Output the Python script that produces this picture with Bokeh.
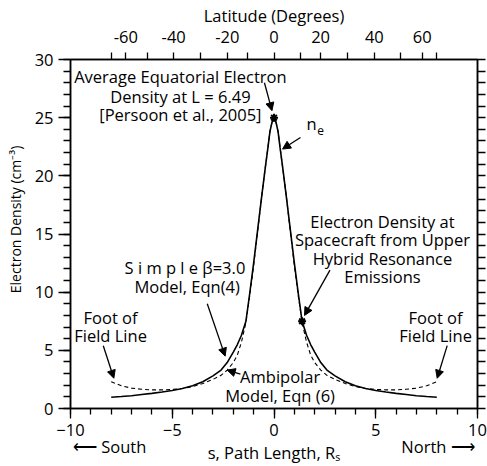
import numpy as np
from bokeh.plotting import figure
from bokeh.models import (Label, Arrow, NormalHead, LinearAxis, FixedTicker,
                          SingleIntervalTicker, Range1d, CustomLabelingPolicy)
from bokeh.embed import file_html
from bokeh.resources import INLINE

# ---------------- data ----------------
# path length s (R_S), symmetric about the equator
s_half = [0.0, 0.1, 0.2, 0.3, 0.45, 0.6, 0.8, 1.0, 1.2, 1.38, 1.6, 1.8, 2.0,
          2.3, 2.6, 3.0, 3.5, 4.0, 4.5, 5.0, 5.5, 6.0, 6.5, 7.0, 7.5, 8.0]
# Ambipolar model, Eqn (6)  (solid)
ambipolar_half = [25.0, 24.6, 23.8, 22.4, 20.4, 18.3, 15.4, 12.5, 9.8, 7.5, 6.3,
                  5.5, 4.85, 3.95, 3.3, 2.8, 2.3, 1.95, 1.72, 1.55, 1.42, 1.3,
                  1.2, 1.1, 1.03, 0.97]
# Simple beta=3.0 model, Eqn (4)  (dashed)
simple_half = [25.0, 24.6, 23.8, 22.4, 20.4, 18.3, 15.3, 12.3, 9.6, 7.4, 5.7,
               4.6, 3.95, 3.3, 2.85, 2.5, 2.15, 1.88, 1.72, 1.64, 1.6, 1.6,
               1.65, 1.75, 1.95, 2.3]

s_vals = [-v for v in s_half[:0:-1]] + s_half
ambipolar = ambipolar_half[:0:-1] + ambipolar_half
simple = simple_half[:0:-1] + simple_half

# measured points (equatorial density, spacecraft UHR density)
marker_s = [0.0, 1.38]
marker_n = [25.0, 7.5]

# latitude (top axis): labelled ticks and their path-length positions
lat_labels = [-60, -40, -20, 0, 20, 40, 60]
lat_label_s = [-7.28, -4.93, -2.29, 0.0, 2.29, 4.93, 7.28]
# unlabelled latitude ticks (-70, -50, -30, -10, 10, 30, 50, 70)
lat_minor_s = [-7.98, -6.22, -3.6, -1.29, 1.29, 3.6, 6.22, 7.98]

# direction labels under the s axis
dir_s = [-8.08, 8.06]
dir_text = ["\u27f5 South", "North \u27f6"]

FONT = "Open Sans"
FS = "16.5px"

p = figure(width=487, height=466, x_range=Range1d(-10, 10), y_range=Range1d(0, 30),
           output_backend="svg", toolbar_location=None,
           x_axis_location=None, y_axis_location=None,
           min_border_left=70, min_border_right=10,
           min_border_top=59, min_border_bottom=58)
p.xgrid.visible = False
p.ygrid.visible = False
p.outline_line_color = "black"
p.outline_line_width = 1.5
p.background_fill_color = "white"
p.border_fill_color = "white"


def style(ax, tick_out, minor_out):
    ax.axis_line_color = "black"
    ax.axis_line_width = 1.5
    ax.major_tick_line_color = "black"
    ax.minor_tick_line_color = "black"
    ax.major_tick_line_width = 1.3
    ax.minor_tick_line_width = 1.3
    ax.major_tick_in = 0
    ax.minor_tick_in = 0
    ax.major_tick_out = tick_out
    ax.minor_tick_out = minor_out
    ax.major_label_text_font = FONT
    ax.major_label_text_font_size = FS
    ax.major_label_text_color = "black"
    ax.axis_label_text_font = FONT
    ax.axis_label_text_font_size = FS
    ax.axis_label_text_font_style = "normal"
    ax.axis_label_text_color = "black"


bottom = LinearAxis(ticker=SingleIntervalTicker(interval=5, num_minor_ticks=5))
style(bottom, 10, 6)
bottom.major_label_standoff = 5
p.add_layout(bottom, "below")

# second row under the axis: direction words and the axis title
below2 = LinearAxis(ticker=FixedTicker(ticks=dir_s, minor_ticks=[]),
                    major_label_overrides=dict(zip(dir_s, dir_text)),
                    axis_label="s, Path Length, R\u209b")
style(below2, 0, 0)
below2.axis_line_color = None
below2.major_tick_line_color = None
below2.major_label_standoff = -4
below2.axis_label_standoff = -20
p.add_layout(below2, "below")

left = LinearAxis(ticker=SingleIntervalTicker(interval=5, num_minor_ticks=5),
                  axis_label="\u00a0" * 8 + "Electron Density (cm\u207b\u00b3)")
style(left, 12, 7)
left.axis_label_text_font_size = "14px"
left.major_label_standoff = 5
left.axis_label_standoff = 7
p.add_layout(left, "left")

top = LinearAxis(ticker=FixedTicker(ticks=lat_label_s, minor_ticks=lat_minor_s),
                 major_label_overrides=dict(zip(lat_label_s,
                                                [str(v) for v in lat_labels])),
                 axis_label="Latitude (Degrees)")
style(top, 7, 7)
top.major_label_standoff = 10
top.axis_label_standoff = 1
p.add_layout(top, "above")

right = LinearAxis(ticker=FixedTicker(ticks=list(range(0, 31)), minor_ticks=[]),
                   major_label_policy=CustomLabelingPolicy(
                       code="for (const i of Array.from(indices)) { indices.unset(i) } return indices"))
style(right, 8, 0)
right.major_label_text_font_size = "0px"
right.major_label_standoff = 0
p.add_layout(right, "right")

# curves
p.line(s_vals, simple, line_color="black", line_width=1.1, line_dash="4 3")
p.line(s_vals, ambipolar, line_color="black", line_width=1.6)
p.scatter(marker_s, marker_n, marker="asterisk", size=8, line_color="black",
          line_width=2)


def lab(x, y, text, align="center", size=FS, baseline="middle"):
    p.add_layout(Label(x=x, y=y, text=text, text_font=FONT, text_font_size=size,
                       text_align=align, text_baseline=baseline,
                       text_color="black"))


def arrow(x0, y0, x1, y1):
    p.add_layout(Arrow(x_start=x0, y_start=y0, x_end=x1, y_end=y1,
                       line_color="black", line_width=1.3,
                       end=NormalHead(size=8, fill_color="black",
                                      line_color="black")))


# top-left annotation
lab(-4.6, 28.5, "Average Equatorial Electron")
lab(-4.6, 26.85, "Density at L = 6.49")
lab(-4.6, 25.3, "[Persoon et al., 2005]")
arrow(-0.47, 28.0, -0.1, 25.6)

# n_e
lab(1.6, 24.5, "n", align="left")
lab(2.12, 23.9, "e", align="left", size="12px")
arrow(1.3, 23.3, 0.42, 22.3)

# spacecraft annotation
lab(5.33, 16.1, "Electron Density at")
lab(5.33, 14.52, "Spacecraft from Upper")
lab(5.33, 12.93, "Hybrid Resonance")
lab(5.33, 11.35, "Emissions")
arrow(2.75, 11.9, 1.5, 8.0)

# simple model annotation
lab(-4.27, 12.1, "S i m p l e  \u03b2=3.0")
lab(-4.27, 10.45, "Model, Eqn(4)")
arrow(-3.28, 9.0, -2.4, 4.5)

# foot of field line (left / right)
lab(-8.03, 7.82, "Foot of")
lab(-8.03, 6.26, "Field Line")
arrow(-8.39, 5.4, -7.87, 2.6)
lab(7.94, 7.82, "Foot of")
lab(7.94, 6.26, "Field Line")
arrow(8.51, 5.4, 8.02, 2.6)

# ambipolar annotation
lab(0.3, 2.74, "Ambipolar")
lab(0.3, 1.11, "Model, Eqn (6)")
arrow(-1.65, 2.95, -2.3, 3.3)

open("out.html", "w").write(file_html(p, INLINE))
